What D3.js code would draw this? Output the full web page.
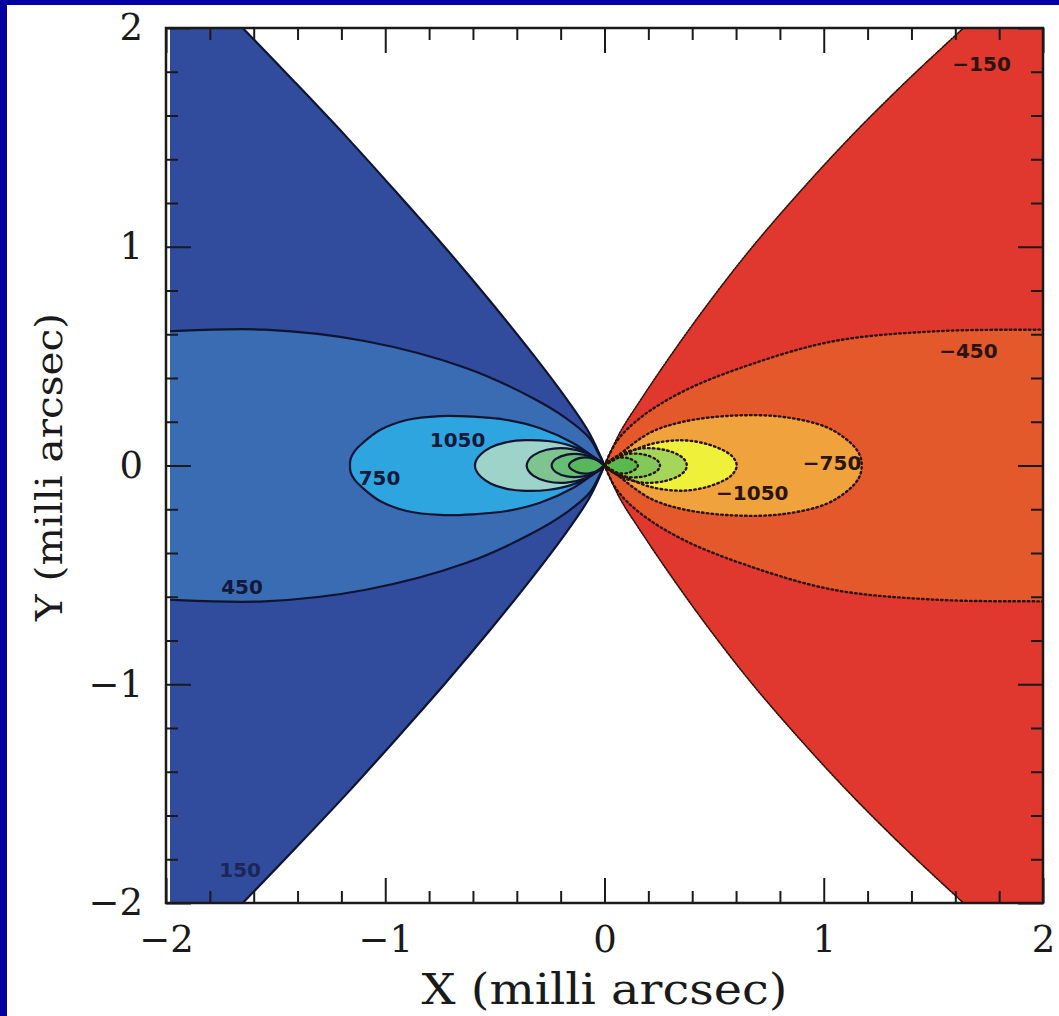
<!DOCTYPE html>
<html>
<head>
<meta charset="utf-8">
<script src="https://cdn.jsdelivr.net/npm/d3@7"></script>
<style>
	body { margin: 0; background: #fff; }
	svg { display: block; }
</style>
</head>
<body>
<svg id="chart" width="1059" height="1016"></svg>
<script>
// upper halves of the contours, from the centre outwards, in milli arcsec (lower half is the mirror)
const posLevels	= [150, 450, 750, 1050, 1350, 1650, 1950];
const negLevels	= [-150, -450, -750, -1050, -1350, -1650, -1950];

const posContours = [
	[[0,0],[-0.07,0.15],[-0.17,0.30],[-0.32,0.5],[-0.52,0.75],[-0.73,1.0],[-0.95,1.25],[-1.175,1.5],[-1.41,1.75],[-1.65,2.0],[-1.745,2.1],[-2.2,2.1]],
	[[0,0],[-0.025,0.05],[-0.069,0.126],[-0.176,0.217],[-0.328,0.309],[-0.632,0.446],[-1.088,0.568],[-1.55,0.621],[-2.0,0.613],[-2.2,0.60]],
	[[0,0],[-0.052,0.040],[-0.144,0.103],[-0.294,0.170],[-0.446,0.208],[-0.60,0.223],[-0.75,0.226],[-0.902,0.208],[-1.024,0.162],[-1.10,0.105],[-1.14,0.065],[-1.158,0.03],[-1.161,0]],
	[[0,0],[-0.03,0.022],[-0.08,0.058],[-0.16,0.092],[-0.26,0.112],[-0.36,0.116],[-0.45,0.106],[-0.52,0.082],[-0.565,0.05],[-0.585,0.024],[-0.591,0]],
	[[0,0],[-0.025,0.022],[-0.081,0.056],[-0.172,0.078],[-0.264,0.072],[-0.325,0.046],[-0.348,0.022],[-0.355,0]],
	[[0,0],[-0.036,0.030],[-0.097,0.050],[-0.172,0.050],[-0.222,0.030],[-0.237,0.014],[-0.241,0]],
	[[0,0],[-0.025,0.02],[-0.07,0.036],[-0.115,0.034],[-0.148,0.019],[-0.159,0.009],[-0.162,0]]
];

const negContours = [
	[[0,0],[0.07,0.15],[0.165,0.30],[0.30,0.5],[0.48,0.75],[0.675,1.0],[0.89,1.25],[1.12,1.5],[1.37,1.75],[1.637,2.0],[1.745,2.1],[2.2,2.1]],
	[[0,0],[0.056,0.111],[0.162,0.217],[0.359,0.339],[0.664,0.461],[1.044,0.568],[1.50,0.613],[1.986,0.621],[2.2,0.62]],
	[[0,0],[0.06,0.045],[0.208,0.150],[0.359,0.200],[0.587,0.228],[0.815,0.222],[1.013,0.175],[1.115,0.11],[1.155,0.065],[1.17,0.03],[1.173,0]],
	[[0,0],[0.071,0.04],[0.208,0.097],[0.359,0.115],[0.481,0.094],[0.568,0.054],[0.595,0.025],[0.603,0]],
	[[0,0],[0.03,0.025],[0.09,0.058],[0.18,0.079],[0.28,0.070],[0.345,0.044],[0.369,0.021],[0.375,0]],
	[[0,0],[0.035,0.03],[0.10,0.052],[0.18,0.050],[0.235,0.028],[0.249,0.013],[0.253,0]],
	[[0,0],[0.025,0.022],[0.065,0.036],[0.11,0.033],[0.14,0.018],[0.149,0.009],[0.152,0]]
];

const posColors	= ['#314c9c', '#3a6cb4', '#2fa5df', '#9dd3c9', '#7fc48e', '#67bd74', '#58b75c'];
const negColors	= ['#e0372f', '#e4592b', '#f0a23c', '#eef03a', '#a5d65a', '#82c95a', '#5bb84e'];

// label text and where it sits (data coords)
const labelText	= ['1050', '750', '450', '150', '\u2212150', '\u2212450', '\u2212750', '\u22121050'];
const labelX	= [-0.67, -1.026, -1.653, -1.662, 1.72, 1.66, 1.038, 0.674];
const labelY	= [0.117, -0.057, -0.555, -1.85, 1.835, 0.524, 0.011, -0.124];

const majorTicks	= [-2, -1, 0, 1, 2];
const minorTicks	= [-1.8, -1.6, -1.4, -1.2, -0.8, -0.6, -0.4, -0.2, 0.2, 0.4, 0.6, 0.8, 1.2, 1.4, 1.6, 1.8];

const svg	= d3.select('#chart');
const plotLeft = 166, plotRight = 1043, plotTop = 28, plotBottom = 903;

const x	= d3.scaleLinear().domain([-2, 2]).range([plotLeft, plotRight]);
const y	= d3.scaleLinear().domain([-2, 2]).range([plotBottom, plotTop]);

// frame of the slide
svg.append('rect').attr('x', 0).attr('y', 0).attr('width', 7).attr('height', 1016).style('fill', '#0500a0');
svg.append('rect').attr('x', 0).attr('y', 0).attr('width', 1059).attr('height', 5).style('fill', '#0500a0');

svg.append('clipPath').attr('id', 'plotclip').append('rect')
	.attr('x', plotLeft + 4).attr('y', plotTop).attr('width', plotRight - plotLeft - 4).attr('height', plotBottom - plotTop);

const line	= d3.line().x((d) => x(d[0])).y((d) => y(d[1])).curve(d3.curveCatmullRom);

function lower(pts) { return pts.map((p) => [p[0], -p[1]]).reverse(); }
function isLoop(pts) { return pts[pts.length - 1][1] === 0; }

function fillPath(pts) {
	if (isLoop(pts)) return line(pts.concat(lower(pts).slice(1))) + 'Z';
	return line(pts) + 'L' + line(lower(pts)).slice(1) + 'Z';
}
function strokePath(pts) {
	if (isLoop(pts)) return line(pts.concat(lower(pts).slice(1)));
	return line(pts) + line(lower(pts));
}

const plot	= svg.append('g').attr('clip-path', 'url(#plotclip)');

posContours.forEach((c, i) => plot.append('path').attr('d', fillPath(c)).style('fill', posColors[i]).attr('class', 'lvl' + posLevels[i]));
negContours.forEach((c, i) => plot.append('path').attr('d', fillPath(c)).style('fill', negColors[i]).attr('class', 'lvl' + negLevels[i]));

posContours.forEach((c) => plot.append('path').attr('d', strokePath(c))
	.style('fill', 'none').style('stroke', '#0e1432').style('stroke-width', 2.2));
negContours.forEach((c, i) => plot.append('path').attr('d', strokePath(c))
	.style('fill', 'none').style('stroke', '#2a1208').style('stroke-width', i === 0 ? 1.6 : 2.4)
	.style('stroke-dasharray', i === 0 ? '1.5,1.5' : '1.6,3.2').style('stroke-linecap', 'round'));

labelText.forEach((t, i) => {
	svg.append('text').attr('x', x(labelX[i])).attr('y', y(labelY[i])).attr('dy', '0.36em')
		.attr('text-anchor', 'middle')
		.style('font-family', 'DejaVu Sans').style('font-weight', 'bold').style('font-size', '20px')
		.style('fill', i < 4 ? (i === 3 ? '#1c2658' : '#14183a') : '#2a140c')
		.text(t);
});

// ticks on all four sides, pointing inward
function styleAxis(g) {
	g.select('.domain').remove();
	g.selectAll('line').style('stroke', '#1a1a1a').style('stroke-width', 2);
	g.selectAll('text').style('font-family', 'DejaVu Serif').style('font-size', '37px').style('fill', '#1a1a1a');
}

const fmt	= d3.format('d');

svg.append('g').attr('transform', 'translate(0,' + plotBottom + ')')
	.call(d3.axisBottom(x).tickValues(majorTicks).tickSize(-25).tickPadding(23).tickFormat(fmt)).call(styleAxis);
svg.append('g').attr('transform', 'translate(0,' + plotBottom + ')')
	.call(d3.axisBottom(x).tickValues(minorTicks).tickSize(-12).tickFormat('')).call(styleAxis);
svg.append('g').attr('transform', 'translate(0,' + plotTop + ')')
	.call(d3.axisTop(x).tickValues(majorTicks).tickSize(-25).tickFormat('')).call(styleAxis);
svg.append('g').attr('transform', 'translate(0,' + plotTop + ')')
	.call(d3.axisTop(x).tickValues(minorTicks).tickSize(-12).tickFormat('')).call(styleAxis);
svg.append('g').attr('transform', 'translate(' + plotLeft + ',0)')
	.call(d3.axisLeft(y).tickValues(majorTicks).tickSize(-25).tickPadding(23).tickFormat(fmt)).call(styleAxis);
svg.append('g').attr('transform', 'translate(' + plotLeft + ',0)')
	.call(d3.axisLeft(y).tickValues(minorTicks).tickSize(-12).tickFormat('')).call(styleAxis);
svg.append('g').attr('transform', 'translate(' + plotRight + ',0)')
	.call(d3.axisRight(y).tickValues(majorTicks).tickSize(-25).tickFormat('')).call(styleAxis);
svg.append('g').attr('transform', 'translate(' + plotRight + ',0)')
	.call(d3.axisRight(y).tickValues(minorTicks).tickSize(-12).tickFormat('')).call(styleAxis);

svg.append('rect').attr('x', plotLeft).attr('y', plotTop).attr('width', plotRight - plotLeft).attr('height', plotBottom - plotTop)
	.style('fill', 'none').style('stroke', '#1a1a1a').style('stroke-width', 2.5);

svg.append('text').attr('x', (plotLeft + plotRight) / 2).attr('y', 1004).attr('text-anchor', 'middle')
	.attr('textLength', 366).attr('lengthAdjust', 'spacingAndGlyphs')
	.style('font-family', 'DejaVu Serif').style('font-size', '42px').style('fill', '#1a1a1a')
	.text('X (milli arcsec)');

svg.append('text').attr('transform', 'translate(62,467) rotate(-90)').attr('text-anchor', 'middle')
	.attr('textLength', 308).attr('lengthAdjust', 'spacingAndGlyphs')
	.style('font-family', 'DejaVu Serif').style('font-size', '37px').style('fill', '#1a1a1a')
	.text('Y (milli arcsec)');
</script>
</body>
</html>
